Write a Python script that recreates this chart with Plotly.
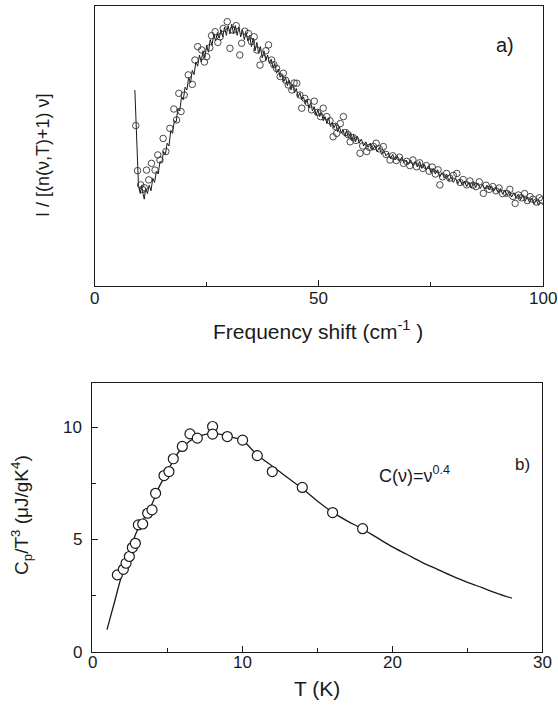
import plotly.graph_objects as go

# ---------------- Panel a) data ----------------
raman_fit_shift = [9.0, 9.8, 10.2, 10.5, 10.8, 11.1, 11.4, 11.8, 12.2, 12.6, 13.0, 13.4, 13.8, 14.2, 14.6,
    15.0, 15.4, 15.8, 16.2, 16.6, 17.0, 17.4, 17.8, 18.2, 18.6, 19.0, 19.4, 19.8, 20.2, 20.6,
    21.0, 21.4, 21.8, 22.2, 22.6, 23.0, 23.4, 23.8, 24.2, 24.6, 25.0, 25.4, 25.8, 26.2, 26.6,
    27.0, 27.4, 27.8, 28.2, 28.6, 29.0, 29.4, 29.8, 30.2, 30.6, 31.0, 31.4, 31.8, 32.2, 32.6,
    33.0, 33.4, 33.8, 34.2, 34.6, 35.0, 35.4, 35.8, 36.2, 36.6, 37.0, 37.4, 37.8, 38.2, 38.6,
    39.0, 39.4, 39.8, 40.2, 40.6, 41.0, 41.4, 41.8, 42.2, 42.6, 43.0, 43.4, 43.8, 44.2, 44.6,
    45.0, 45.4, 45.8, 46.2, 46.6, 47.0, 47.4, 47.8, 48.2, 48.6, 49.0, 49.4, 49.8, 50.2, 50.6,
    51.0, 51.4, 51.8, 52.2, 52.6, 53.0, 53.4, 53.8, 54.2, 54.6, 55.0, 55.4, 55.8, 56.2, 56.6,
    57.0, 57.4, 57.8, 58.2, 58.6, 59.0, 59.5, 60.0, 60.5, 61.0, 61.5, 62.0, 62.5, 63.0, 63.5,
    64.0, 64.5, 65.0, 65.5, 66.0, 66.5, 67.0, 67.5, 68.0, 68.5, 69.0, 69.5, 70.0, 70.5, 71.0,
    71.5, 72.0, 72.5, 73.0, 73.5, 74.0, 74.5, 75.0, 75.5, 76.0, 76.5, 77.0, 77.5, 78.0, 78.5,
    79.0, 79.5, 80.0, 80.5, 81.0, 81.5, 82.0, 82.5, 83.0, 83.5, 84.0, 84.5, 85.0, 85.5, 86.0,
    86.5, 87.0, 87.5, 88.0, 88.5, 89.0, 89.5, 90.0, 90.5, 91.0, 91.5, 92.0, 92.5, 93.0, 93.5,
    94.0, 94.5, 95.0, 95.5, 96.0, 96.5, 97.0, 97.5, 98.0, 98.5, 99.0, 99.5, 100.0]
raman_fit_intensity = [0.70, 0.36, 0.33, 0.36, 0.33, 0.31, 0.35, 0.33, 0.36, 0.34, 0.385, 0.37, 0.41, 0.40, 0.445,
    0.44, 0.48, 0.47, 0.51, 0.50, 0.555, 0.545, 0.59, 0.585, 0.635, 0.625, 0.675, 0.665, 0.71, 0.70,
    0.745, 0.725, 0.77, 0.755, 0.80, 0.785, 0.825, 0.80, 0.84, 0.815, 0.86, 0.835, 0.88, 0.86, 0.90,
    0.875, 0.905, 0.885, 0.915, 0.89, 0.925, 0.895, 0.93, 0.90, 0.935, 0.90, 0.93, 0.895, 0.925, 0.89,
    0.915, 0.88, 0.905, 0.875, 0.895, 0.855, 0.885, 0.84, 0.87, 0.83, 0.855, 0.815, 0.84, 0.805, 0.825,
    0.795, 0.81, 0.78, 0.795, 0.76, 0.775, 0.745, 0.755, 0.73, 0.745, 0.715, 0.735, 0.70, 0.72, 0.69,
    0.705, 0.675, 0.69, 0.665, 0.675, 0.65, 0.665, 0.635, 0.655, 0.625, 0.64, 0.61, 0.63, 0.605, 0.62,
    0.59, 0.605, 0.58, 0.60, 0.57, 0.585, 0.565, 0.58, 0.55, 0.57, 0.545, 0.56, 0.535, 0.555, 0.53,
    0.545, 0.52, 0.54, 0.515, 0.535, 0.51, 0.525, 0.50, 0.515, 0.495, 0.51, 0.485, 0.50, 0.48, 0.495,
    0.47, 0.485, 0.465, 0.475, 0.455, 0.47, 0.45, 0.465, 0.445, 0.46, 0.44, 0.45, 0.435, 0.45, 0.43,
    0.445, 0.425, 0.445, 0.42, 0.435, 0.415, 0.43, 0.405, 0.42, 0.40, 0.415, 0.39, 0.405, 0.385, 0.40,
    0.375, 0.39, 0.37, 0.385, 0.365, 0.38, 0.36, 0.375, 0.355, 0.37, 0.35, 0.37, 0.352, 0.368, 0.348,
    0.363, 0.345, 0.36, 0.343, 0.358, 0.338, 0.353, 0.333, 0.348, 0.328, 0.343, 0.323, 0.338, 0.318, 0.333,
    0.313, 0.328, 0.308, 0.323, 0.303, 0.318, 0.298, 0.313, 0.293, 0.308, 0.288, 0.298, 0.29]

raman_data_shift = [9.2, 9.6, 10.3, 10.7, 11.1, 11.6, 12.1, 12.7, 13.5, 14.1, 14.6, 15.3, 15.9, 16.8, 17.7,
    18.3, 18.8, 19.3, 20.0, 20.9, 21.8, 22.4, 23.0, 23.9, 24.5, 25.0, 25.7, 26.1, 26.9, 27.5,
    28.0, 28.7, 29.6, 30.2, 30.9, 31.6, 32.4, 32.8, 33.5, 34.3, 35.0, 35.6, 36.2, 36.9, 37.6,
    38.2, 38.8, 39.5, 40.0, 40.6, 41.4, 42.1, 42.6, 43.2, 44.0, 44.5, 45.1, 45.8, 46.2, 46.9,
    47.6, 48.4, 49.0, 49.7, 50.4, 51.0, 51.8, 52.5, 53.2, 53.7, 54.0, 54.8, 55.5, 56.0, 56.6,
    57.0, 57.7, 58.3, 59.2, 59.8, 60.7, 61.3, 62.2, 62.8, 63.5, 64.4, 65.0, 65.9, 66.5, 67.3,
    68.0, 68.9, 69.6, 70.3, 71.0, 71.8, 72.5, 73.2, 74.0, 74.6, 75.3, 76.0, 76.6, 77.0, 77.6,
    78.5, 79.2, 80.0, 80.8, 81.5, 82.2, 83.0, 83.7, 84.4, 85.1, 85.8, 86.7, 87.3, 88.0, 88.8,
    89.5, 90.2, 91.0, 91.9, 92.6, 93.3, 93.8, 94.5, 95.2, 95.9, 96.5, 97.1, 97.8, 98.5, 99.2, 99.7]
raman_data_intensity = [0.573, 0.412, 0.361, 0.345, 0.351, 0.414, 0.379, 0.438, 0.414, 0.468, 0.45, 0.527, 0.48, 0.563, 0.632,
    0.593, 0.688, 0.623, 0.682, 0.754, 0.72, 0.807, 0.855, 0.843, 0.80, 0.819, 0.851, 0.894, 0.908, 0.87,
    0.89, 0.92, 0.944, 0.849, 0.914, 0.93, 0.825, 0.867, 0.91, 0.902, 0.873, 0.89, 0.843, 0.789, 0.813,
    0.84, 0.861, 0.807, 0.79, 0.777, 0.748, 0.76, 0.735, 0.718, 0.70, 0.725, 0.724, 0.682, 0.635, 0.67,
    0.655, 0.629, 0.66, 0.62, 0.605, 0.635, 0.605, 0.59, 0.533, 0.57, 0.545, 0.58, 0.605, 0.548, 0.54,
    0.515, 0.53, 0.52, 0.474, 0.50, 0.48, 0.495, 0.498, 0.51, 0.49, 0.498, 0.47, 0.45, 0.465, 0.448,
    0.46, 0.438, 0.445, 0.43, 0.45, 0.426, 0.44, 0.42, 0.43, 0.41, 0.425, 0.40, 0.415, 0.361, 0.39,
    0.402, 0.385, 0.395, 0.402, 0.37, 0.38, 0.361, 0.375, 0.36, 0.355, 0.372, 0.331, 0.36, 0.345, 0.355,
    0.34, 0.35, 0.33, 0.331, 0.345, 0.32, 0.295, 0.325, 0.315, 0.33, 0.305, 0.319, 0.31, 0.30, 0.315, 0.307]

raman_tick_vals = [0, 50, 100]
raman_tick_text = ["0", "50", "100"]

# ---------------- Panel b) data ----------------
cp_T = [1.69, 2.09, 2.27, 2.49, 2.69, 2.89, 3.09, 3.38, 3.71, 4.0, 4.24, 4.8, 5.13, 5.42, 6.02,
    6.53, 7.02, 8.04, 8.04, 9.02, 10.04, 11.02, 12.02, 14.02, 16.04, 18.04]
cp_value = [3.44, 3.69, 3.96, 4.26, 4.66, 4.85, 5.67, 5.71, 6.19, 6.34, 7.08, 7.87, 8.05, 8.62, 9.17,
    9.73, 9.54, 10.06, 9.72, 9.61, 9.45, 8.76, 8.05, 7.34, 6.22, 5.5]

model_T = [1.0, 1.5, 2.0, 2.5, 3.0, 3.5, 4.0, 4.5, 5.0, 5.5, 6.0, 6.5, 7.0, 7.5, 8.0, 8.5, 9.0,
    10.0, 11.0, 12.0, 13.0, 14.0, 15.0, 16.0, 17.0, 18.0, 19.0, 20.0, 21.0, 22.0, 23.0, 24.0,
    25.0, 26.0, 27.0, 28.0]
model_value = [1.0, 2.23, 3.47, 4.5, 5.4, 6.0, 6.6, 7.4, 8.0, 8.65, 9.1, 9.4, 9.6, 9.7, 9.75, 9.72, 9.63,
    9.45, 8.8, 8.3, 7.8, 7.3, 6.75, 6.25, 5.85, 5.5, 5.1, 4.7, 4.35, 4.0, 3.7, 3.4,
    3.12, 2.87, 2.62, 2.4]

cp_xtick_vals = [0, 10, 20, 30]
cp_xtick_text = ["0", "10", "20", "30"]
cp_ytick_vals = [0, 5, 10]
cp_ytick_text = ["0", "5", "10"]

W, H = 558, 725
FONT = "Liberation Sans, Arial, sans-serif"
INK = "#1a1a1a"

def px(x):
    return x / W

def py(y):
    return 1 - y / H

fig = go.Figure()

fig.add_trace(go.Scatter(x=raman_fit_shift, y=raman_fit_intensity, mode="lines",
                         line=dict(color=INK, width=1), xaxis="x", yaxis="y", showlegend=False))
fig.add_trace(go.Scatter(x=raman_data_shift, y=raman_data_intensity, mode="markers",
                         marker=dict(symbol="circle-open", size=6.5, color="#333", line=dict(width=0.9)),
                         xaxis="x", yaxis="y", showlegend=False))

fig.add_trace(go.Scatter(x=model_T, y=model_value, mode="lines", line=dict(color=INK, width=1.3, shape="spline"),
                         xaxis="x2", yaxis="y2", showlegend=False))
fig.add_trace(go.Scatter(x=cp_T, y=cp_value, mode="markers",
                         marker=dict(symbol="circle", size=10, color="white", line=dict(color=INK, width=1.2)),
                         xaxis="x2", yaxis="y2", showlegend=False))

axis_common = dict(showline=True, linecolor=INK, linewidth=1, mirror=True, showgrid=False, zeroline=False,
                   ticks="inside", tickcolor=INK, tickwidth=1, showticklabels=False)

fig.update_layout(
    width=W, height=H, margin=dict(l=0, r=0, t=0, b=0),
    paper_bgcolor="white", plot_bgcolor="white",
    xaxis=dict(domain=[px(94.5), px(543)], range=[0, 100], anchor="y",
               tickvals=raman_tick_vals, ticklen=6,
               minor=dict(tickvals=[25, 75], ticklen=4, ticks="inside", tickcolor=INK), **axis_common),
    yaxis=dict(domain=[py(286), py(6)], range=[0, 1], anchor="x", showticklabels=False,
               showline=True, linecolor=INK, linewidth=1, mirror=True, showgrid=False, zeroline=False, ticks=""),
    xaxis2=dict(domain=[px(92), px(542)], range=[0, 30], anchor="y2",
                tickvals=cp_xtick_vals, ticklen=6,
                minor=dict(tickvals=[5, 15, 25], ticklen=4, ticks="inside", tickcolor=INK), **axis_common),
    yaxis2=dict(domain=[py(652), py(383)], range=[0, 12], anchor="x2",
                tickvals=cp_ytick_vals, ticklen=6,
                minor=dict(tickvals=[2.5, 7.5], ticklen=4, ticks="inside", tickcolor=INK), **axis_common),
)

tick_font = dict(family=FONT, size=17, color=INK)
title_font = dict(family=FONT, size=21, color=INK)
annotations = []
for v, t in zip(raman_tick_vals, raman_tick_text):
    annotations.append(dict(text=t, x=v, xref="x", y=py(298), yref="paper", showarrow=False,
                            font=tick_font, xanchor="center", yanchor="middle"))
for v, t in zip(cp_xtick_vals, cp_xtick_text):
    annotations.append(dict(text=t, x=v, xref="x2", y=py(662), yref="paper", showarrow=False,
                            font=tick_font, xanchor="center", yanchor="middle"))
for v, t in zip(cp_ytick_vals, cp_ytick_text):
    annotations.append(dict(text=t, x=px(84), xref="paper", y=v, yref="y2", showarrow=False,
                            font=tick_font, xanchor="right", yanchor="middle"))

annotations += [
    dict(text="Frequency shift (cm<sup>-1</sup> )", x=px(318), y=py(330), xref="paper", yref="paper",
         showarrow=False, font=title_font, xanchor="center", yanchor="middle"),
    dict(text="I / [(n(ν,T)+1) ν]", x=px(43), y=py(155), xref="paper", yref="paper", textangle=-90,
         showarrow=False, font=dict(family=FONT, size=18, color=INK), xanchor="center", yanchor="middle"),
    dict(text="a)", x=px(505), y=py(45), xref="paper", yref="paper",
         showarrow=False, font=dict(family=FONT, size=20, color=INK), xanchor="center", yanchor="middle"),
    dict(text="T (K)", x=px(317), y=py(688), xref="paper", yref="paper",
         showarrow=False, font=title_font, xanchor="center", yanchor="middle"),
    dict(text="C<sub>p</sub>/T<sup>3</sup> (μJ/gK<sup>4</sup>)", x=px(21), y=py(515), xref="paper", yref="paper",
         textangle=-90, showarrow=False, font=dict(family=FONT, size=19, color=INK), xanchor="center", yanchor="middle"),
    dict(text="b)", x=px(522), y=py(464), xref="paper", yref="paper",
         showarrow=False, font=dict(family=FONT, size=17, color=INK), xanchor="center", yanchor="middle"),
    dict(text="C(ν)=ν<sup>0.4</sup>", x=px(377), y=py(474), xref="paper", yref="paper",
         showarrow=False, font=dict(family=FONT, size=18, color=INK), xanchor="left", yanchor="middle"),
]
fig.update_layout(annotations=annotations)

fig.write_html("out.html", config={"displayModeBar": False},
               post_script="document.body.style.margin='0';document.body.style.overflow='hidden';")
